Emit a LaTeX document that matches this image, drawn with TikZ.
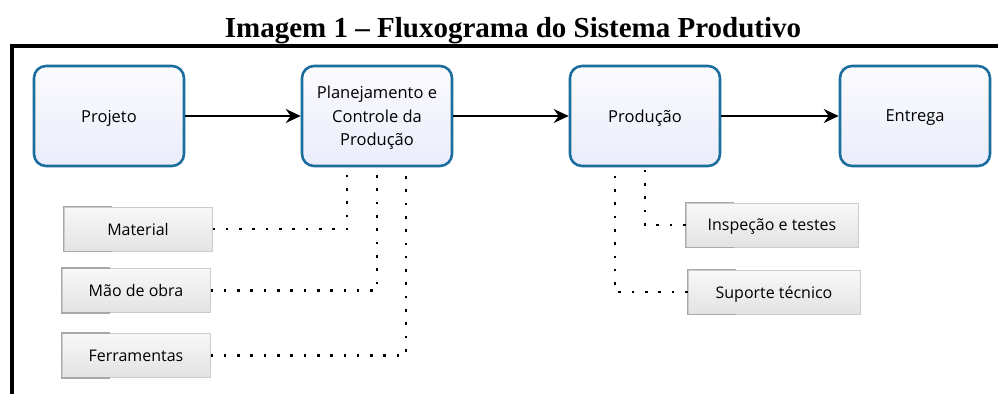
\documentclass[tikz,border=0pt]{standalone}
\usepackage{fontspec}
\setmainfont{Liberation Serif}
\newfontfamily\boxfont{Open Sans}
\usetikzlibrary{arrows.meta}
\definecolor{bordblue}{HTML}{1B6E9E}
\definecolor{fillhi}{HTML}{FBFBFE}
\definecolor{filllo}{HTML}{EAEDFB}
\definecolor{gbord}{HTML}{CBCBCB}
\definecolor{gdark}{HTML}{A8A8A8}
\definecolor{gtop}{HTML}{F8F8F8}
\definecolor{gbot}{HTML}{E3E3E3}
\tikzset{
  mainbox/.style={draw=bordblue, line width=2.6pt, rounded corners=12pt,
    top color=fillhi, bottom color=filllo, minimum width=150pt, minimum height=100pt,
    font=\boxfont\fontsize{16.5}{23.5}\selectfont, align=center, inner sep=0pt, text depth=0pt},
  subbox/.style={draw=gbord, line width=1pt, top color=gtop, bottom color=gbot,
    font=\boxfont\fontsize{16}{18}\selectfont, minimum height=44pt, inner sep=0pt, text depth=0pt},
  shade3d/.style={draw=gdark, line width=1.2pt},
  flow/.style={line width=1.2pt, -{Stealth[length=15pt,width=14pt,inset=5pt]}},
  dotline/.style={line width=2.6pt, dash pattern=on 2.6pt off 10.7pt}
}
\begin{document}
\begin{tikzpicture}[x=1pt,y=-1pt]
\useasboundingbox (0,0) rectangle (998,394);
\fill[white] (0,0) rectangle (998,394);
\node[font=\bfseries\fontsize{29}{32}\selectfont, anchor=base] (title) at (513,37) {Imagem 1 -- Fluxograma do Sistema Produtivo};
\coordinate (fl) at (12,394);
\coordinate (fc) at (12,46);
\coordinate (fr) at (998,46);
\draw[line width=4pt] (fl) -- (fc) -- (fr);

\node[mainbox] (proj) at (109,116) {Projeto};
\node[mainbox] (pcp) at (377,116) {Planejamento e\\Controle da\\Produção};
\node[mainbox] (prod) at (645,116) {Produção};
\node[mainbox] (ent) at (915,116) {Entrega};

\draw[flow] (proj) -- (pcp);
\draw[flow] (pcp) -- (prod);
\draw[flow] (prod) -- (ent);

\node[subbox, minimum width=148pt] (mat) at (138,229) {Material};
\node[subbox, minimum width=148pt] (mao) at (136,290.5) {Mão de obra};
\node[subbox, minimum width=148pt] (fer) at (136,355.5) {Ferramentas};
\node[subbox, minimum width=172pt] (insp) at (772,225) {Inspeção e testes};
\node[subbox, minimum width=172pt] (sup) at (774,292) {Suporte técnico};

\foreach \b in {mat,mao,fer,insp,sup}{
  \draw[shade3d] ([xshift=48pt]\b.north west) -- (\b.north west) -- (\b.south west) -- ([xshift=48pt]\b.south west);
}

\draw[dotline] (mat.east) -| (pcp.south -| 347,0);
\draw[dotline] (mao.east) -| (pcp.south -| 377,0);
\draw[dotline] (fer.east) -| (pcp.south -| 406,0);
\draw[dotline] (insp.west) -| (prod.south -| 645,0);
\draw[dotline] (sup.west) -| (prod.south -| 615,0);
\end{tikzpicture}
\end{document}
